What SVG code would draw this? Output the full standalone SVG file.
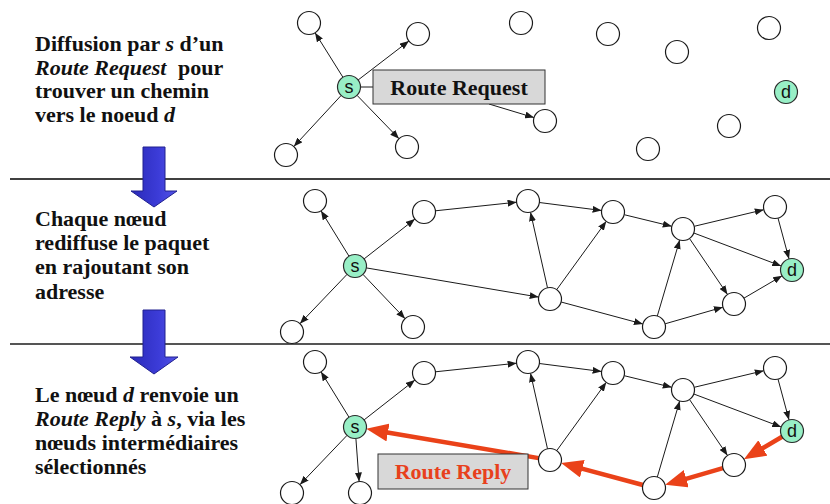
<svg xmlns="http://www.w3.org/2000/svg" width="830" height="504" viewBox="0 0 830 504">
<style>
  .n circle{fill:#fff;stroke:#1a1a1a;stroke-width:1.2}
  .g circle{fill:#98efc6;stroke:#2a2a2a;stroke-width:1.2}
  .g text{font-family:"Liberation Sans",Arial,sans-serif;font-size:18px;fill:#111;text-anchor:middle}
  .e line{stroke:#1a1a1a;stroke-width:1;marker-end:url(#ah)}
  .r line{stroke:#ea4219;stroke-width:4.5;marker-end:url(#rh)}
  .t{font-family:"Liberation Serif","Times New Roman",serif;font-weight:bold;font-size:22px;fill:#111}
  .i{font-style:italic}
  .box{fill:#d8d8d8;stroke:#333;stroke-width:1}
  .bt{font-family:"Liberation Serif","Times New Roman",serif;font-weight:bold;font-size:22px;text-anchor:middle}
  .blue{fill:url(#bg);stroke:#20208f;stroke-width:1}
</style>
<defs>
  <marker id="ah" markerUnits="userSpaceOnUse" markerWidth="9" markerHeight="7" refX="9" refY="3.5" orient="auto"><path d="M0,0 L9,3.5 L0,7 z" fill="#1a1a1a"/></marker>
  <marker id="rh" markerUnits="userSpaceOnUse" markerWidth="22" markerHeight="18" refX="11" refY="9" orient="auto"><path d="M0,0 L22,9 L0,18 z" fill="#ea4219"/></marker>
  <linearGradient id="bg" x1="0" y1="0" x2="1" y2="0"><stop offset="0" stop-color="#2a2ab8"/><stop offset="0.6" stop-color="#3c3cd8"/><stop offset="1" stop-color="#5454e6"/></linearGradient>
</defs>
<rect width="830" height="504" fill="#fff"/>

<!-- separators -->
<line x1="10" y1="179" x2="830" y2="179" stroke="#000" stroke-width="1.5"/>
<line x1="10" y1="344" x2="830" y2="344" stroke="#555" stroke-width="2"/>

<!-- blue step arrows -->
<polygon class="blue" points="143,147 165,147 165,191 177,191 154,207 131,191 143,191"/>
<polygon class="blue" points="143,310 165,310 165,357 178,357 154,374 130,357 143,357"/>

<!-- left texts -->
<text class="t" x="35" y="51">Diffusion par <tspan class="i">s</tspan> d’un</text>
<text class="t" x="35" y="75"><tspan class="i">Route Request</tspan><tspan dx="6"> pour</tspan></text>
<text class="t" x="35" y="98">trouver un chemin</text>
<text class="t" x="35" y="122">vers le noeud <tspan class="i">d</tspan></text>

<text class="t" x="35" y="226">Chaque nœud</text>
<text class="t" x="35" y="250">rediffuse le paquet</text>
<text class="t" x="35" y="274">en rajoutant son</text>
<text class="t" x="35" y="299">adresse</text>

<text class="t" x="35" y="402">Le nœud <tspan class="i">d</tspan> renvoie un</text>
<text class="t" x="35" y="426"><tspan class="i">Route Reply</tspan> à <tspan class="i">s</tspan>, via les</text>
<text class="t" x="35" y="450">nœuds intermédiaires</text>
<text class="t" x="35" y="474">sélectionnés</text>

<!-- connectors -->
<g id="connectors">
  <g class="e">
    <!-- panel 1 -->
    <line x1="342.9" y1="77.2" x2="315.1" y2="32.8"/>
    <line x1="358.1" y1="80.0" x2="408.9" y2="41.0"/>
    <line x1="341.2" y1="95.4" x2="293.8" y2="146.6"/>
    <line x1="357.0" y1="95.3" x2="399.0" y2="138.7"/>
    <line x1="489" y1="104" x2="534.0" y2="117.6"/>
    <!-- panel 2 -->
    <line x1="349.0" y1="256.2" x2="321.0" y2="210.8"/>
    <line x1="364.1" y1="258.9" x2="414.9" y2="219.1"/>
    <line x1="347.1" y1="274.3" x2="299.9" y2="323.7"/>
    <line x1="362.9" y1="274.3" x2="405.1" y2="318.7"/>
    <line x1="366.3" y1="267.9" x2="538.7" y2="297.1"/>
    <line x1="435.4" y1="210.8" x2="516.6" y2="202.2"/>
    <line x1="547.5" y1="287.8" x2="530.5" y2="212.2"/>
    <line x1="556.7" y1="289.7" x2="606.3" y2="221.3"/>
    <line x1="561.1" y1="302.0" x2="642.9" y2="324.0"/>
    <line x1="539.4" y1="202.5" x2="601.6" y2="210.5"/>
    <line x1="624.2" y1="214.7" x2="671.8" y2="226.3"/>
    <line x1="657.3" y1="316.0" x2="679.7" y2="240.0"/>
    <line x1="665.1" y1="323.8" x2="722.9" y2="307.2"/>
    <line x1="694.2" y1="226.3" x2="763.8" y2="209.7"/>
    <line x1="693.8" y1="233.0" x2="781.2" y2="266.0"/>
    <line x1="689.5" y1="238.5" x2="727.5" y2="294.5"/>
    <line x1="743.9" y1="298.2" x2="782.1" y2="275.8"/>
    <line x1="778.0" y1="218.1" x2="789.0" y2="258.9"/>
    <!-- panel 3 -->
    <line x1="349.0" y1="417.2" x2="321.0" y2="371.8"/>
    <line x1="364.1" y1="419.9" x2="414.9" y2="380.1"/>
    <line x1="347.1" y1="435.3" x2="299.9" y2="484.7"/>
    <line x1="355.9" y1="438.5" x2="359.1" y2="481.5"/>
    <line x1="435.4" y1="371.8" x2="516.6" y2="363.2"/>
    <line x1="547.5" y1="448.8" x2="530.5" y2="373.2"/>
    <line x1="556.7" y1="450.7" x2="606.3" y2="382.3"/>
    <line x1="539.4" y1="363.5" x2="601.6" y2="371.5"/>
    <line x1="624.2" y1="375.7" x2="671.8" y2="387.3"/>
    <line x1="657.3" y1="477.0" x2="679.7" y2="401.0"/>
    <line x1="694.2" y1="387.3" x2="763.8" y2="370.7"/>
    <line x1="693.8" y1="394.0" x2="781.2" y2="427.0"/>
    <line x1="689.5" y1="399.5" x2="727.5" y2="455.5"/>
    <line x1="778.0" y1="379.1" x2="789.0" y2="419.9"/>
  </g>
  <line x1="360.5" y1="87" x2="373" y2="87" stroke="#1a1a1a" stroke-width="1"/>
  <g class="r">
    <line x1="782.1" y1="436.8" x2="753.4" y2="453.6"/>
    <line x1="722.9" y1="468.2" x2="675.7" y2="481.8"/>
    <line x1="642.9" y1="485.0" x2="571.7" y2="465.9"/>
    <line x1="538.7" y1="458.1" x2="377.1" y2="430.7"/>
  </g>
</g>

<!-- labels -->
<g id="label-route-request">
  <rect class="box" x="373" y="70" width="172" height="34"/>
  <text class="bt" x="459" y="95" fill="#111">Route Request</text>
</g>
<g id="label-route-reply">
  <rect class="box" x="378" y="454" width="150" height="35"/>
  <text class="bt" x="453" y="479" fill="#e8401c" font-size="22.5">Route Reply</text>
</g>

<!-- panel 1 nodes -->
<g id="p1-s" class="g"><circle cx="349" cy="87" r="11.5"/><text x="349" y="93">s</text></g>
<g id="p1-a" class="n"><circle cx="309" cy="23" r="11.5"/></g>
<g id="p1-b" class="n"><circle cx="418" cy="34" r="11.5"/></g>
<g id="p1-c" class="n"><circle cx="521" cy="23" r="11.5"/></g>
<g id="p1-e" class="n"><circle cx="286" cy="155" r="11.5"/></g>
<g id="p1-f" class="n"><circle cx="407" cy="147" r="11.5"/></g>
<g id="p1-g" class="n"><circle cx="545" cy="121" r="11.5"/></g>
<g id="p1-h" class="n"><circle cx="608" cy="34" r="11.5"/></g>
<g id="p1-i" class="n"><circle cx="677" cy="52" r="11.5"/></g>
<g id="p1-j" class="n"><circle cx="769" cy="28" r="11.5"/></g>
<g id="p1-k" class="n"><circle cx="729" cy="126" r="11.5"/></g>
<g id="p1-l" class="n"><circle cx="648" cy="149" r="11.5"/></g>
<g id="p1-d" class="g"><circle cx="786" cy="92" r="11.5"/><text x="786" y="98">d</text></g>

<!-- panel 2 nodes -->
<g id="p2-s" class="g"><circle cx="355" cy="266" r="11.5"/><text x="355" y="272">s</text></g>
<g id="p2-a" class="n"><circle cx="315" cy="201" r="11.5"/></g>
<g id="p2-b" class="n"><circle cx="424" cy="212" r="11.5"/></g>
<g id="p2-c" class="n"><circle cx="528" cy="201" r="11.5"/></g>
<g id="p2-e" class="n"><circle cx="292" cy="332" r="11.5"/></g>
<g id="p2-f" class="n"><circle cx="413" cy="327" r="11.5"/></g>
<g id="p2-g" class="n"><circle cx="550" cy="299" r="11.5"/></g>
<g id="p2-h" class="n"><circle cx="613" cy="212" r="11.5"/></g>
<g id="p2-i" class="n"><circle cx="683" cy="229" r="11.5"/></g>
<g id="p2-j" class="n"><circle cx="775" cy="207" r="11.5"/></g>
<g id="p2-k" class="n"><circle cx="734" cy="304" r="11.5"/></g>
<g id="p2-l" class="n"><circle cx="654" cy="327" r="11.5"/></g>
<g id="p2-d" class="g"><circle cx="792" cy="270" r="11.5"/><text x="792" y="276">d</text></g>

<!-- panel 3 nodes -->
<g id="p3-s" class="g"><circle cx="355" cy="427" r="11.5"/><text x="355" y="433">s</text></g>
<g id="p3-a" class="n"><circle cx="315" cy="362" r="11.5"/></g>
<g id="p3-b" class="n"><circle cx="424" cy="373" r="11.5"/></g>
<g id="p3-c" class="n"><circle cx="528" cy="362" r="11.5"/></g>
<g id="p3-e" class="n"><circle cx="292" cy="493" r="11.5"/></g>
<g id="p3-f" class="n"><circle cx="360" cy="493" r="11.5"/></g>
<g id="p3-g" class="n"><circle cx="550" cy="460" r="11.5"/></g>
<g id="p3-h" class="n"><circle cx="613" cy="373" r="11.5"/></g>
<g id="p3-i" class="n"><circle cx="683" cy="390" r="11.5"/></g>
<g id="p3-j" class="n"><circle cx="775" cy="368" r="11.5"/></g>
<g id="p3-k" class="n"><circle cx="734" cy="465" r="11.5"/></g>
<g id="p3-l" class="n"><circle cx="654" cy="488" r="11.5"/></g>
<g id="p3-d" class="g"><circle cx="792" cy="431" r="11.5"/><text x="792" y="437">d</text></g>
</svg>
